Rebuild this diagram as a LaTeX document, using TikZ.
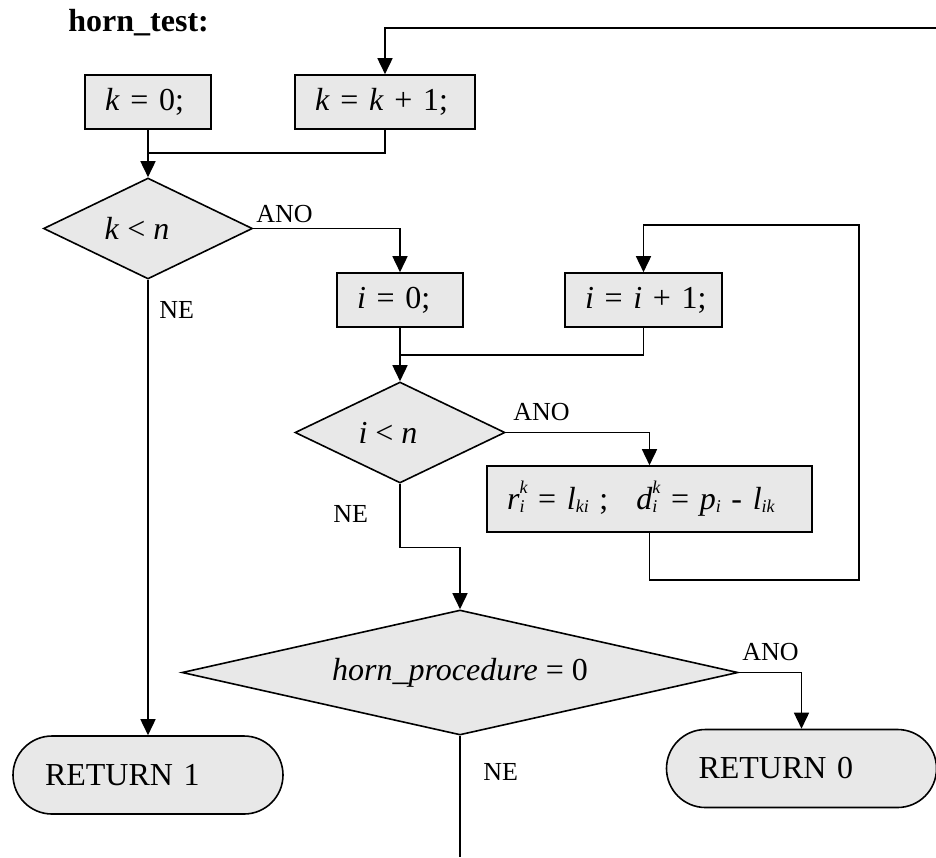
\documentclass[tikz,border=0pt]{standalone}
\usepackage{fontspec}
\setmainfont{Liberation Serif}
\usepackage{tikz}
\usetikzlibrary{shapes.geometric, arrows.meta}
\definecolor{boxfill}{RGB}{232, 232, 232}
\newcommand{\idxfont}{\fontsize{9}{10}\selectfont\itshape}
\newcommand{\low}[2]{\textit{#1}\raisebox{-1.5pt}{\idxfont #2}}
\newcommand{\lowhigh}[3]{\textit{#1}\rlap{\raisebox{-1.5pt}{\idxfont #2}}\raisebox{8pt}{\idxfont #3}}

\begin{document}
\begin{tikzpicture}[
  x=0.5pt, y=-0.5pt,
  every node/.style={font=\fontsize{16}{19}\selectfont},
  box/.style={rectangle, draw=black, fill=boxfill, line width=0.8pt,
              minimum height=27pt, inner xsep=10pt, align=left},
  cond/.style={diamond, draw=black, fill=boxfill, line width=0.8pt, inner sep=0pt},
  term/.style={rectangle, rounded corners=19.5pt, draw=black, fill=boxfill, line width=0.8pt,
               text width=103pt, inner xsep=16pt, minimum height=39pt, align=left},
  arr/.style={-{Triangle[length=8pt, width=7.5pt]}, line width=0.8pt},
  conn/.style={line width=0.8pt},
  tag/.style={font=\fontsize{13}{15}\selectfont, anchor=base west, inner sep=0pt}
]
\useasboundingbox (0,0) rectangle (936,857);

\node[anchor=base west, inner sep=0pt, font=\fontsize{16}{19}\selectfont\bfseries] (title) at (68,31) {horn\_test:};

\node[box, text width=43pt]   (k0)  at (148,102)   {\mbox{\textit{k} = 0;}};
\node[box, text width=70pt]   (kk1) at (385,102)   {\mbox{\textit{k} = \textit{k} + 1;}};
\node[cond, aspect=2, minimum width=104.5pt, minimum height=50.5pt] (klt) at (148,228.5) {\textit{k} < \textit{n}\hspace*{11pt}};
\node[box, text width=43pt]   (i0)  at (400,300)   {\mbox{\textit{i} = 0;}};
\node[box, text width=58.5pt] (ii1) at (643.5,300) {\mbox{\textit{i} = \textit{i} + 1;}};
\node[cond, aspect=2, minimum width=105pt, minimum height=50.5pt] (ilt) at (400,432.5) {\textit{i} < \textit{n}\hspace*{12pt}};
\node[box, text width=142.5pt, minimum height=33pt] (rd) at (649.5,499)
  {\mbox{\lowhigh{r}{i}{k} = \low{l}{ki} ;\hspace{14pt}\lowhigh{d}{i}{k} = \low{p}{i} - \low{l}{ik}}};
\node[cond, aspect=4.45, minimum width=278pt, minimum height=62.5pt] (horn) at (460,672.5) {\textit{horn\_procedure} = 0};
\node[term] (ret1) at (148,775)   {RETURN 1};
\node[term] (ret0) at (801.5,768.5) {RETURN 0};

% branch labels
\node[tag] (kyes) at (256,222) {ANO};
\node[tag] (kno)  at (159,318) {NE};
\node[tag] (iyes) at (513,420) {ANO};
\node[tag] (ino)  at (333,522) {NE};
\node[tag] (hyes) at (742,660) {ANO};
\node[tag] (hno)  at (483,780) {NE};

% free ends and joins
\coordinate (kback)   at (936,28);
\coordinate (kjoin)   at (148,153);
\coordinate (ijoin)   at (400,355);
\coordinate (iback)   at (859,225);
\coordinate (hornout) at (460,857);

\draw[arr]  (kback) -| (kk1.north);
\draw[arr]  (k0) -- (klt);
\draw[conn] (kk1.south) |- (kjoin);
\draw[arr]  (klt.east) -| (i0.north);
\draw[arr]  (klt.south) -- (ret1.north);
\draw[arr]  (i0) -- (ilt);
\draw[conn] (ii1.south) |- (ijoin);
\draw[arr]  (ilt.east) -| (rd.north);
\draw[arr]  (rd.south) -- ++(0,47) -| (iback) -| (ii1.north);
\draw[arr]  (ilt.south) -- ++(0,63.5) -| (horn.north);
\draw[arr]  (horn.east) -| (ret0.north);
\draw[conn] (horn.south) -- (hornout);

\end{tikzpicture}
\end{document}
